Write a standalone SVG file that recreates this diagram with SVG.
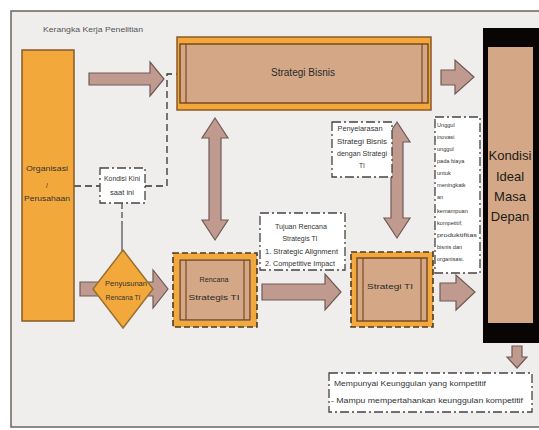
<svg xmlns="http://www.w3.org/2000/svg" width="539" height="430" viewBox="0 0 539 430">
<style>
text{font-family:"Liberation Sans Narrow","Liberation Sans",Arial,sans-serif;fill:#333;}
.sm{font-size:6.5px;}
.xs{font-size:5.6px;}
.md{font-size:8px;fill:#2a2a2a;}
.arr{fill:#c09a8e;stroke:#6e5a57;stroke-width:1.2;}
.org{fill:#f3a83c;stroke:#8a5a2a;stroke-width:1.5;}
.tan{fill:#d4a886;stroke:#7a4a20;stroke-width:1.5;}
.ln{stroke:#7a4a20;stroke-width:1.2;}
.note{fill:#ffffff;stroke:#444;stroke-width:1.3;stroke-dasharray:9,3,2,3;}
.dash{fill:none;stroke:#333;stroke-width:1.3;stroke-dasharray:7,4;}
.band{fill:none;stroke:#f3a83c;stroke-width:6;}
.band2{fill:none;stroke:#4a3a2a;stroke-width:1.6;stroke-dasharray:6,3;}
</style>
<rect x="0" y="0" width="539" height="430" fill="#ffffff"/>
<rect x="11" y="11" width="530" height="416" fill="#efeeec" stroke="#6b6460" stroke-width="1.5"/>
<text x="43" y="32" style="font-size:7px;fill:#555" textLength="100" lengthAdjust="spacingAndGlyphs">Kerangka Kerja Penelitian</text>

<g id="connectors">
<path class="arr" d="M89,73 H150 V62 L164,79 L150,96 V85 H89 Z"/>
<path class="arr" d="M80,282 H153 V270 L168,289 L153,308 V296 H80 Z"/>
<path class="arr" d="M262,284 H325 V274 L341,292 L325,310 V300 H262 Z"/>
<path class="arr" d="M441,70 H455 V60 L474,77 L455,94 V85 H441 Z"/>
<path class="arr" d="M440,283 H456 V275 L475,292 L456,310 V301 H440 Z"/>
<path class="arr" d="M512,346 V357 H507 L517,368 L527,357 H522 V346 Z"/>
<path class="arr" d="M215,118 L228,138 H221 V220 H228 L215,240 L202,220 H209 V138 H202 Z"/>
<path class="arr" d="M397,122 L410,142 H403 V218 H410 L397,238 L384,218 H391 V142 H384 Z"/>
<path class="dash" d="M74,186 H100 M145,186 H167 V74 H177"/>
<path d="M122,203 V225" fill="none" stroke="#444" stroke-width="1.2" stroke-dasharray="6,3"/>
<path d="M122,225 V251" fill="none" stroke="#4a4a55" stroke-width="1.2"/>
</g>

<g id="organisasi">
<rect class="org" x="22" y="50" width="52" height="271"/>
<text class="sm" x="47" y="171" text-anchor="middle" textLength="42" lengthAdjust="spacingAndGlyphs">Organisasi</text>
<text class="sm" x="47" y="188" text-anchor="middle">/</text>
<text class="sm" x="47" y="201" text-anchor="middle" textLength="46" lengthAdjust="spacingAndGlyphs">Perusahaan</text>
</g>

<g id="kondisi-kini">
<rect class="note" x="100" y="168" width="45" height="35"/>
<text class="sm" x="122" y="181" text-anchor="middle" textLength="36" lengthAdjust="spacingAndGlyphs">Kondisi Kini</text>
<text class="sm" x="122" y="195" text-anchor="middle" textLength="24" lengthAdjust="spacingAndGlyphs">saat ini</text>
</g>

<g id="penyusunan">
<path class="org" d="M123,250 L153,289 L123,328 L93,289 Z" style="stroke:#9a7030"/>
<text class="sm" x="126" y="286" text-anchor="middle" textLength="42" lengthAdjust="spacingAndGlyphs">Penyusunan</text>
<text class="sm" x="123" y="300" text-anchor="middle" textLength="35" lengthAdjust="spacingAndGlyphs">Rencana TI</text>
</g>

<g id="strategi-bisnis">
<rect class="org" x="177" y="37" width="254" height="73"/>
<rect class="tan" x="180" y="44" width="248" height="59"/>
<line class="ln" x1="186" y1="44" x2="186" y2="103"/>
<line class="ln" x1="422" y1="44" x2="422" y2="103"/>
<text class="md" x="303" y="76" text-anchor="middle" style="font-size:10px" textLength="64" lengthAdjust="spacingAndGlyphs">Strategi Bisnis</text>
</g>

<g id="rencana">
<rect class="band" x="176" y="256" width="78" height="68"/>
<rect class="band2" x="173" y="253" width="84" height="74"/>
<rect class="tan" x="180" y="260" width="70" height="60"/>
<line class="ln" x1="186" y1="260" x2="186" y2="320"/>
<line class="ln" x1="244" y1="260" x2="244" y2="320"/>
<text class="md" x="214" y="282" text-anchor="middle" textLength="29" lengthAdjust="spacingAndGlyphs">Rencana</text>
<text class="md" x="214" y="300" text-anchor="middle" textLength="51" lengthAdjust="spacingAndGlyphs">Strategis TI</text>
</g>

<g id="tujuan">
<rect class="note" x="260" y="213" width="85" height="57"/>
<text class="sm" x="301" y="229" text-anchor="middle" textLength="52" lengthAdjust="spacingAndGlyphs">Tujuan Rencana</text>
<text class="sm" x="300" y="241" text-anchor="middle" textLength="35" lengthAdjust="spacingAndGlyphs">Strategis TI</text>
<text class="sm" x="265" y="254" textLength="73" lengthAdjust="spacingAndGlyphs">1. Strategic Alignment</text>
<text class="sm" x="265" y="266" textLength="70" lengthAdjust="spacingAndGlyphs">2. Competitive Impact</text>
</g>

<g id="penyelarasan">
<rect class="note" x="332" y="122" width="60" height="55"/>
<text class="sm" x="360" y="131" text-anchor="middle" textLength="45" lengthAdjust="spacingAndGlyphs">Penyelarasan</text>
<text class="sm" x="362" y="144" text-anchor="middle" textLength="50" lengthAdjust="spacingAndGlyphs">Strategi Bisnis</text>
<text class="sm" x="362" y="156" text-anchor="middle" textLength="50" lengthAdjust="spacingAndGlyphs">dengan Strategi</text>
<text class="sm" x="362" y="168" text-anchor="middle">TI</text>
</g>

<g id="strategi-ti">
<rect class="band" x="354" y="255" width="76" height="69"/>
<rect class="band2" x="351" y="252" width="82" height="75"/>
<rect class="tan" x="357" y="258" width="70" height="63"/>
<line class="ln" x1="363" y1="258" x2="363" y2="321"/>
<line class="ln" x1="421" y1="258" x2="421" y2="321"/>
<text class="md" x="390" y="289" text-anchor="middle" textLength="46" lengthAdjust="spacingAndGlyphs">Strategi TI</text>
</g>

<g id="keunggulan">
<rect class="note" x="435" y="117" width="45" height="156"/>
<text class="xs" x="437" y="127">Unggul</text>
<text class="xs" x="437" y="139">inovasi</text>
<text class="xs" x="437" y="151">unggul</text>
<text class="xs" x="437" y="163">pada biaya</text>
<text class="xs" x="437" y="175">untuk</text>
<text class="xs" x="437" y="187">meningkatk</text>
<text class="xs" x="437" y="199">an</text>
<text class="xs" x="437" y="213">kemampuan</text>
<text class="xs" x="437" y="225">kompetitif,</text>
<text class="xs" x="437" y="237" textLength="40" lengthAdjust="spacingAndGlyphs">produktifitas</text>
<text class="xs" x="437" y="249">bisnis dan</text>
<text class="xs" x="437" y="261">organisasi.</text>
</g>

<g id="kondisi-ideal">
<rect x="483" y="28" width="56" height="315" fill="#0a0505"/>
<rect x="488" y="47" width="45" height="276" fill="#d4a886"/>
<g style="font-size:13px" text-anchor="middle">
<text x="510" y="160" style="fill:#1a1a1a" textLength="43" lengthAdjust="spacingAndGlyphs">Kondisi</text>
<text x="510" y="181" style="fill:#1a1a1a">Ideal</text>
<text x="510" y="201" style="fill:#1a1a1a">Masa</text>
<text x="510" y="221" style="fill:#1a1a1a">Depan</text>
</g>
</g>

<g id="hasil">
<rect class="note" x="329" y="373" width="203" height="39"/>
<text class="sm" x="334" y="386" style="font-size:7px" textLength="152" lengthAdjust="spacingAndGlyphs">Mempunyai Keunggulan yang kompetitif</text>
<text class="sm" x="331" y="403" style="font-size:7px" textLength="192" lengthAdjust="spacingAndGlyphs">- Mampu mempertahankan keunggulan kompetitif</text>
</g>
</svg>
